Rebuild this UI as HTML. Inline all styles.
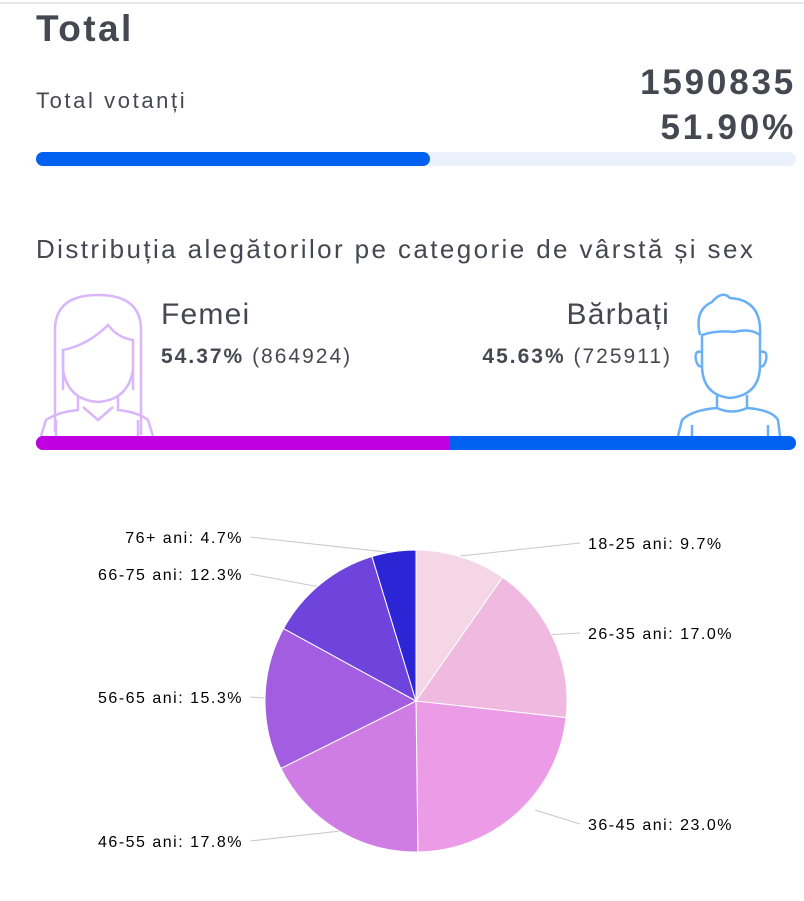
<!DOCTYPE html>
<html><head><meta charset="utf-8"><style>
body{margin:0;width:804px;height:901px;background:#fff;font-family:"Liberation Sans",sans-serif;color:#474752;position:relative;overflow:hidden}
.a{position:absolute;white-space:nowrap}
</style></head><body>
<div class="a" style="left:0;top:2px;width:804px;height:2px;background:#e6e6ee"></div>
<div class="a" style="left:36px;top:8px;font-size:37px;font-weight:bold;letter-spacing:2.4px">Total</div>
<div class="a" style="left:36px;top:88px;font-size:22px;letter-spacing:2.6px">Total votanți</div>
<div class="a" style="right:8px;top:60px;font-size:35px;font-weight:bold;text-align:right;line-height:45px;letter-spacing:2.8px">1590835<br>51.90%</div>
<div class="a" style="left:36px;top:152px;width:760px;height:14px;border-radius:7px;background:#eaf1fa"></div>
<div class="a" style="left:36px;top:152px;width:394px;height:14px;border-radius:7px;background:#0061f0"></div>
<div class="a" style="left:36px;top:234px;font-size:26px;letter-spacing:2.4px">Distribuția alegătorilor pe categorie de vârstă și sex</div>
<svg class="a" style="left:38px;top:290px" width="120" height="150" viewBox="0 0 120 150" fill="none" stroke="#dab6fb" stroke-width="2.5">
<path d="M17 142 V40 Q17 5 60 5 Q103 5 103 40 V145"/>
<path d="M25 100 V60 Q50 55 70 35 Q80 48 95 50 V100"/>
<path d="M25 60 V80 Q30 110 60 112 Q90 110 95 80"/>
<path d="M40 105 V120 Q20 122 8 130 L3 146 M80 105 V120 Q100 122 110 130 L115 146"/>
<path d="M45 117 L60 130 L75 117"/><path d="M18 130 V146 M100 130 V146"/>
</svg>
<div class="a" style="left:161px;top:298px;font-size:30px;letter-spacing:1.2px">Femei</div>
<div class="a" style="left:161px;top:345px;font-size:21px;letter-spacing:2px"><b>54.37%</b> (864924)</div>
<div class="a" style="right:134px;top:298px;font-size:30px;letter-spacing:1.2px">Bărbați</div>
<div class="a" style="right:132px;top:345px;font-size:21px;letter-spacing:2px"><b>45.63%</b> (725911)</div>
<svg class="a" style="left:672px;top:290px" width="110" height="150" viewBox="0 0 110 150" fill="none" stroke="#6ab0f5" stroke-width="2.5">
<path d="M28 45 Q22 20 40 12 Q50 0 58 8 Q90 10 88 45"/>
<path d="M30 45 Q45 40 62 42 Q78 38 88 45 V75 Q88 105 58 108 Q30 105 30 75 Z"/>
<path d="M30 62 Q22 60 24 70 Q26 78 30 76 M88 62 Q96 60 94 70 Q92 78 88 76"/>
<path d="M45 105 V118 Q60 125 75 118 V105"/>
<path d="M45 118 Q20 120 10 130 L6 146 M75 118 Q100 120 106 130 L108 146 M20 135 V146 M96 135 V146"/>
</svg>
<div class="a" style="left:36px;top:436px;width:760px;height:14px;border-radius:7px;background:#0061f0"></div>
<div class="a" style="left:36px;top:436px;width:413px;height:14px;border-radius:7px 0 0 7px;background:#c000e0"></div>
<svg class="a" style="left:0;top:0" width="804" height="901" id="pie">
<g stroke="#c8c8c8" stroke-width="1" fill="none">
<path d="M460 556 L580 543"/><path d="M545 635 L580 633"/><path d="M535 810 L580 824"/>
<path d="M350 830 L250 841"/><path d="M290 700 L250 697"/><path d="M320 587 L250 574"/><path d="M395 553 L250 537"/>
</g>
<g font-size="16" fill="#000" font-family="Liberation Sans,sans-serif" letter-spacing="1.5">
<text x="588" y="549">18-25 ani: 9.7%</text>
<text x="588" y="639">26-35 ani: 17.0%</text>
<text x="588" y="830">36-45 ani: 23.0%</text>
<text x="243" y="847" text-anchor="end">46-55 ani: 17.8%</text>
<text x="243" y="703" text-anchor="end">56-65 ani: 15.3%</text>
<text x="243" y="580" text-anchor="end">66-75 ani: 12.3%</text>
<text x="243" y="543" text-anchor="end">76+ ani: 4.7%</text>
</g>
</svg>
<script>
var v=[9.7,17.0,23.0,17.8,15.3,12.3,4.7],c=["#f5d6e6","#efb9e0","#ec9be6","#cf7de5","#a35de0","#6f44dd","#2b25d6"];
var cx=416,cy=701,r=151,t=0,s=0,svg=document.getElementById('pie');v.forEach(function(x){t+=x});
v.forEach(function(x,i){var a0=s/t*2*Math.PI,a1=(s+x)/t*2*Math.PI;s+=x;
var p=document.createElementNS("http://www.w3.org/2000/svg","path");
p.setAttribute("d","M"+cx+" "+cy+" L"+(cx+r*Math.sin(a0))+" "+(cy-r*Math.cos(a0))+" A"+r+" "+r+" 0 "+(a1-a0>Math.PI?1:0)+" 1 "+(cx+r*Math.sin(a1))+" "+(cy-r*Math.cos(a1))+" Z");
p.setAttribute("fill",c[i]);p.setAttribute("stroke","#fff");p.setAttribute("stroke-width","1");svg.appendChild(p);});
</script>
</body></html>
